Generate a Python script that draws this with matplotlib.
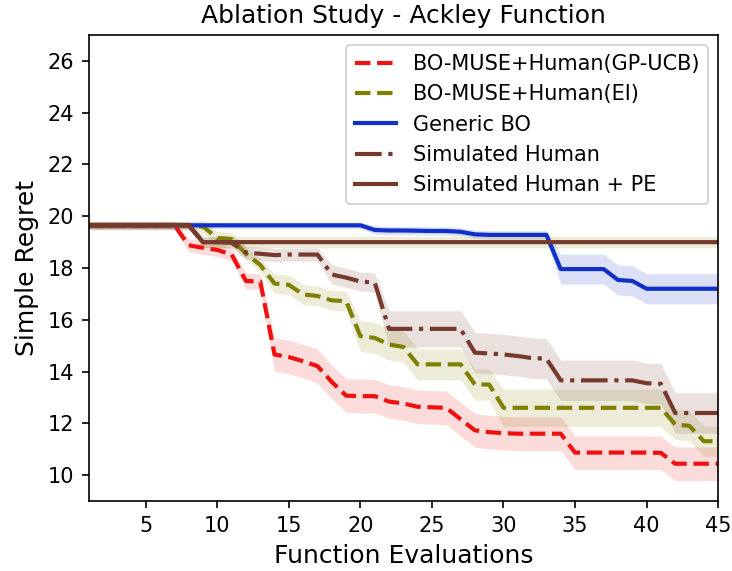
import numpy as np
import matplotlib
matplotlib.use("Agg")
import matplotlib.pyplot as plt

evals = np.arange(1, 46)

ucb_mean = [19.65, 19.65, 19.65, 19.65, 19.65, 19.65, 19.65, 18.88, 18.78, 18.70,
            18.52, 17.50, 17.48, 14.66, 14.56, 14.40, 14.21, 13.60, 13.07, 13.05,
            13.05, 12.84, 12.77, 12.64, 12.62, 12.60, 12.16, 11.73, 11.66, 11.62,
            11.60, 11.60, 11.60, 11.60, 10.87, 10.87, 10.87, 10.87, 10.87, 10.87,
            10.86, 10.44, 10.44, 10.44, 10.44]
ucb_std = [0.15] * 7 + [0.25] * 4 + [0.3] * 2 + [0.65] * 32

ei_mean = [19.65, 19.65, 19.65, 19.65, 19.65, 19.65, 19.65, 19.65, 19.60, 19.16,
           19.12, 18.55, 18.12, 17.40, 17.35, 16.98, 16.92, 16.75, 16.72, 15.37,
           15.30, 15.05, 14.95, 14.28, 14.28, 14.28, 14.28, 13.50, 13.50, 12.60,
           12.60, 12.60, 12.60, 12.60, 12.60, 12.60, 12.60, 12.60, 12.60, 12.60,
           12.60, 11.96, 11.90, 11.31, 11.31]
ei_std = [0.15] * 8 + [0.25] * 5 + [0.38] * 6 + [0.6] * 10 + [0.72] * 12 + [0.58] * 4

bo_mean = [19.65] * 20 + [19.47, 19.45, 19.45, 19.44, 19.43, 19.43, 19.40, 19.30,
                          19.28, 19.28, 19.28, 19.28, 19.28, 17.96, 17.96, 17.96,
                          17.96, 17.54, 17.50, 17.20, 17.20, 17.20, 17.20, 17.20, 17.20]
bo_std = [0.12] * 20 + [0.16] * 13 + [0.58] * 12

sh_mean = [19.65] * 8 + [19.00, 19.00, 18.98, 18.60, 18.55, 18.50, 18.52, 18.52,
                         18.52, 17.75, 17.63, 17.48, 17.44, 15.65, 15.65, 15.65,
                         15.65, 15.65, 15.65, 14.73, 14.70, 14.66, 14.60, 14.52,
                         14.50, 13.66, 13.66, 13.66, 13.66, 13.66, 13.66, 13.55,
                         13.53, 12.40, 12.40, 12.40, 12.40]
sh_std = [0.15] * 8 + [0.2] * 3 + [0.25] * 6 + [0.37] * 4 + [0.7] * 6 + [0.78] * 6 + [0.78] * 12

pe_mean = [19.65] * 8 + [19.00] * 37
pe_std = [0.15] * 8 + [0.22] * 37

labels = ["BO-MUSE+Human(GP-UCB)", "BO-MUSE+Human(EI)", "Generic BO",
          "Simulated Human", "Simulated Human + PE"]

red = "#f01010"
olive = "#808000"
blue = "#1030c8"
brown = "#763a2c"

series = [
    (ucb_mean, ucb_std, red, "--", red),
    (ei_mean, ei_std, olive, "--", olive),
    (bo_mean, bo_std, blue, "-", blue),
    (sh_mean, sh_std, brown, "-.", brown),
    (pe_mean, pe_std, brown, "-", olive),
]

fig = plt.figure(figsize=(732 / 150, 571 / 150), dpi=150)
ax = fig.add_axes([0.121, 0.1226, 0.860, 0.816])

for (m, s, c, ls, fc), lab in zip(series, labels):
    m = np.array(m)
    s = np.array(s)
    ax.plot(evals, m, color=c, linestyle=ls, linewidth=2, label=lab)
    ax.fill_between(evals, m - s, m + s, color=fc, alpha=0.15, linewidth=0)

ax.set_xlim(1, 45)
ax.set_ylim(9, 27)
ax.set_xticks([5, 10, 15, 20, 25, 30, 35, 40, 45])
ax.set_yticks([10, 12, 14, 16, 18, 20, 22, 24, 26])
ax.tick_params(labelsize=10)
ax.set_xlabel("Function Evaluations", fontsize=12)
ax.set_ylabel("Simple Regret", fontsize=12)
ax.set_title("Ablation Study - Ackley Function", fontsize=12)
ax.legend(loc="upper right", fontsize=10)

fig.savefig("out.png", dpi=150)
